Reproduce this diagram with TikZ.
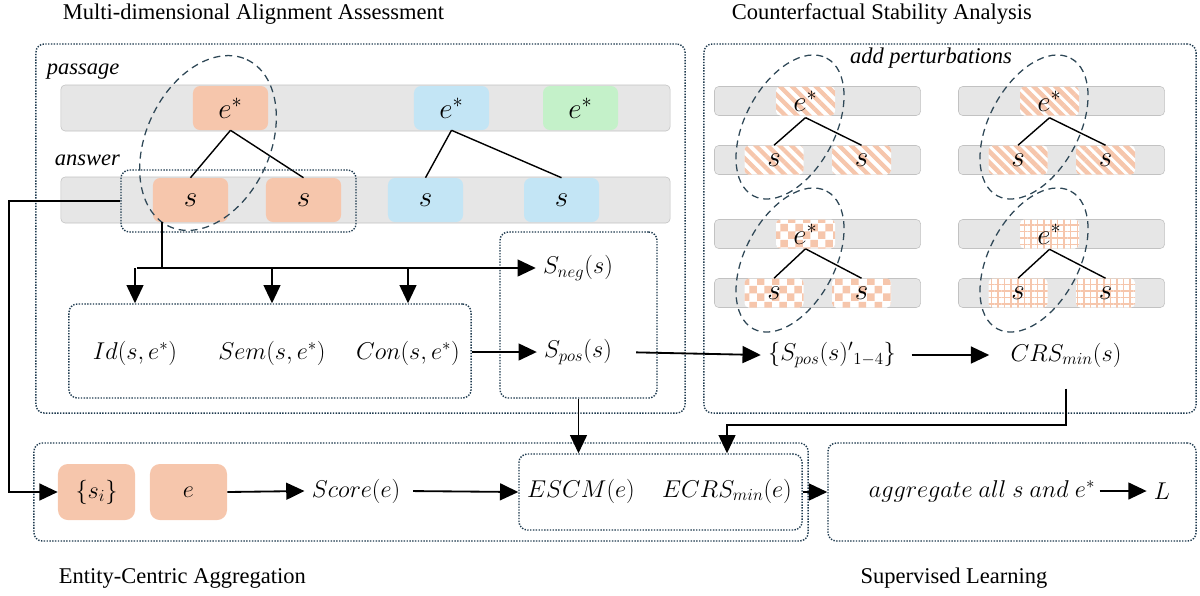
\documentclass[tikz,border=0pt]{standalone}
\usepackage{fontspec}
\setmainfont{Liberation Serif}
\usetikzlibrary{arrows.meta,patterns,patterns.meta,calc}

\definecolor{peach}{HTML}{F6C6AC}
\definecolor{skyb}{HTML}{C3E5F5}
\definecolor{mint}{HTML}{C4F1C9}
\definecolor{barfill}{HTML}{E6E6E6}
\definecolor{barline}{HTML}{C2C2C2}
\definecolor{frame}{HTML}{1E3A4F}
\definecolor{ellc}{HTML}{2E4756}

\pgfdeclarepatternformonly{bigchecker}{\pgfpointorigin}{\pgfqpoint{11pt}{11pt}}{\pgfqpoint{11pt}{11pt}}{%
  \pgfpathrectangle{\pgfpointorigin}{\pgfqpoint{5.5pt}{5.5pt}}%
  \pgfpathrectangle{\pgfqpoint{5.5pt}{5.5pt}}{\pgfqpoint{5.5pt}{5.5pt}}%
  \pgfusepath{fill}}

\tikzset{
  ttl/.style={font=\fontsize{16}{19}\selectfont, anchor=west},
  lbl/.style={font=\fontsize{16}{19}\selectfont\itshape},
  frm/.style={draw=frame, densely dotted, line width=1pt, rounded corners=6pt, inner sep=0},
  bar/.style={draw=barline, fill=barfill, rounded corners=3pt, inner sep=0, minimum width=15.225cm, minimum height=1.15cm},
  ebox/.style={rounded corners=5pt, inner sep=0, minimum width=1.875cm, minimum height=1.1cm, font=\fontsize{20.74}{24}\selectfont},
  tbar/.style={bar, minimum width=5.15cm, minimum height=0.725cm},
  tbox/.style={rounded corners=3pt, inner sep=0, minimum width=1.475cm, minimum height=0.725cm, font=\fontsize{20.74}{22}\selectfont},
  mth/.style={font=\fontsize{17.28}{20}\selectfont, inner sep=5pt},
  tree/.style={line width=1pt},
  ell/.style={draw=ellc, line width=0.9pt, dash pattern=on 5pt off 3.5pt},
  arr/.style={-{Triangle[length=13pt,width=12pt]}, line width=1.3pt},
  link/.style={line width=1.3pt},
  stripeA/.style={preaction={fill=white}, pattern={Lines[angle=-45,distance=6pt,line width=3pt]}, pattern color=peach},
  stripeB/.style={preaction={fill=white}, pattern={Lines[angle=-45,distance=5.5pt,line width=3.2pt]}, pattern color=peach},
  checkA/.style={preaction={fill=white}, pattern=bigchecker, pattern color=peach},
  gridA/.style={preaction={fill=white}, pattern={Hatch[angle=0,distance=4.7pt,line width=1.1pt]}, pattern color=peach},
}

% one perturbed tree: dx, dy, pattern, id
\newcommand{\pertree}[4]{%
  \node[tbar] (pb#4) at (817.5+#1,101+#2) {};
  \node[tbar] (ab#4) at (817.5+#1,160+#2) {};
  \node[tbox,#3] (pe#4) at (805.5+#1,101+#2) {$e^*$};
  \node[tbox,#3] (psa#4) at (774+#1,160+#2) {$s$};
  \node[tbox,#3] (psb#4) at (861.5+#1,160+#2) {$s$};
  \draw[tree] (pe#4.south) -- (psa#4.north);
  \draw[tree] (pe#4.south) -- (psb#4.north);
  \draw[ell, shift={(790+#1,127+#2)}, rotate=62] (0,0) ellipse [x radius=78, y radius=45];
}

\begin{document}
\begin{tikzpicture}[x=0.025cm, y=-0.025cm]
    \useasboundingbox (0,0) rectangle (1200,595);

    % titles
    \node[ttl] (t1) at (58,14) {Multi-dimensional Alignment Assessment};
    \node[ttl] (t2) at (727,14) {Counterfactual Stability Analysis};
    \node[ttl] (t3) at (54,578) {Entity-Centric Aggregation};
    \node[ttl, anchor=center] (t4) at (954,578) {Supervised Learning};

    % LEFT: alignment assessment
        \node[frm, minimum width=16.225cm, minimum height=9.225cm] (maa) at (360.5,228.5) {};
        \node[lbl, anchor=west] (plbl) at (42,72) {passage};
        \node[lbl, anchor=west] (albl) at (50,160) {answer};
        \node[bar] (pbar) at (365.5,108) {};
        \node[bar] (abar) at (365.5,200) {};
        \node[ebox, fill=peach] (e1) at (230.5,108) {$e^*$};
        \node[ebox, fill=skyb] (e2) at (451.5,108) {$e^*$};
        \node[ebox, fill=mint] (e3) at (580.5,108) {$e^*$};
        \node[ebox, fill=peach] (s1) at (190.5,200) {$s$};
        \node[ebox, fill=peach] (s2) at (303.5,200) {$s$};
        \node[ebox, fill=skyb] (s3) at (425.5,200) {$s$};
        \node[ebox, fill=skyb] (s4) at (561.5,200) {$s$};
        \draw[tree] (e1.south) -- (s1.north);
        \draw[tree] (e1.south) -- (s2.north);
        \draw[tree] (e2.south) -- (s3.north);
        \draw[tree] (e2.south) -- (s4.north);
        \node[frm, minimum width=5.875cm, minimum height=1.55cm] (grp) at (238.5,201) {};
        \draw[ell, shift={(208,143)}, rotate=65] (0,0) ellipse [x radius=92, y radius=62];

        \node[frm, minimum width=10.05cm, minimum height=2.35cm] (fbox) at (270,351) {};
        \node[mth] (id) at (135,353) {$Id(s,e^*)$};
        \node[mth] (sem) at (272,353) {$Sem(s,e^*)$};
        \node[mth] (con) at (408,353) {$Con(s,e^*)$};
        \node[frm, minimum width=3.925cm, minimum height=4.15cm] (sbox) at (578.5,315) {};
        \node[mth] (sneg) at (578,268) {$S_{neg}(s)$};
        \node[mth] (spos) at (578,352) {$S_{pos}(s)$};

        \coordinate (split) at (162,268);
        \coordinate (fork) at (137,268);
        \draw[link] (s1.south -| split) -- (split);
        \draw[arr] (fork) -- (sneg.west |- fork);
        \foreach \n in {id,sem,con}
            \draw[arr] (\n.north |- fork) -- (\n.north |- fbox.north);
        \draw[arr] (fbox.east |- spos) -- (spos.west);

    % RIGHT: counterfactual stability
        \node[frm, minimum width=12.3cm, minimum height=9.225cm] (csa) at (950,228.5) {};
        \pertree{0}{0}{stripeA}{1}
        \pertree{244}{0}{stripeB}{2}
        \pertree{0}{133}{checkA}{3}
        \pertree{244}{133}{gridA}{4}
        \node[lbl] (addp) at (931,58) {add perturbations};
        \node[mth] (sp14) at (832,355) {$\{S_{pos}(s)'{}_{1-4}\}$};
        \node[mth] (crs) at (1066,355) {$CRS_{min}(s)$};
        \draw[arr, shorten <=12pt] (spos.east) -- (sp14.west);
        \draw[arr, shorten <=6pt, shorten >=10pt] (sp14.east) -- (crs.west);

    % BOTTOM: aggregation and learning
        \node[frm, minimum width=19.35cm, minimum height=2.45cm] (eca) at (421,492) {};
        \node[frm, minimum width=9.2cm, minimum height=2.45cm] (slbox) at (1012,492) {};
        \node[ebox, fill=peach, minimum width=1.925cm, minimum height=1.4cm, rounded corners=7pt, font=\fontsize{17.28}{22}\selectfont] (si) at (96.5,492) {$\{s_i\}$};
        \node[ebox, fill=peach, minimum width=1.925cm, minimum height=1.4cm, rounded corners=7pt, font=\fontsize{17.28}{22}\selectfont] (eent) at (188.5,492) {$e$};
        \node[mth] (score) at (356,491) {$Score(e)$};
        \node[frm, minimum width=7.075cm, minimum height=1.9cm] (escmbox) at (660.5,492) {};
        \node[mth] (escm) at (581,491) {$ESCM(e)$};
        \node[mth] (ecrs) at (727,491) {$ECRS_{min}(e)$};
        \node[mth] (agg) at (982,491) {$aggregate\ all\ s\ and\ e^*$};
        \node[mth] (lnode) at (1162,491) {$L$};

        \coordinate (bend) at (1068,425);
        \draw[arr] (grp.west) -- ++(-111,0) |- (si.west);
        \draw[arr] (eent.east) -- (score.west);
        \draw[arr, shorten <=4pt] (score.east) -- (escmbox.west);
        \draw[arr] (sbox.south) -- (sbox.south |- escmbox.north);
        \draw[arr, shorten <=10pt] (crs.south) -- (crs.south |- bend) -| (ecrs.north |- escmbox.north);
        \draw[arr] (escmbox.east) -- (slbox.west);
        \draw[arr, shorten <=-2pt] (agg.east) -- (lnode.west);
\end{tikzpicture}
\end{document}
